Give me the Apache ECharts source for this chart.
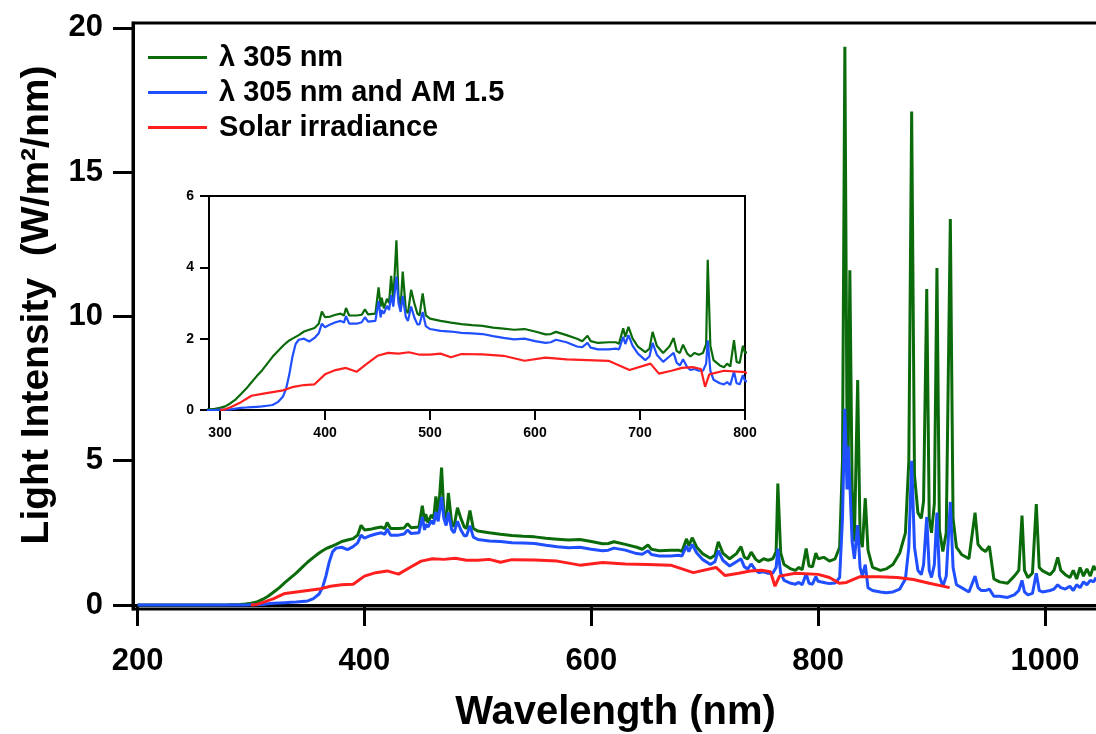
<!DOCTYPE html>
<html>
<head>
<meta charset="utf-8">
<script src="https://cdn.jsdelivr.net/npm/echarts@6/dist/echarts.min.js"></script>
<style>html,body{margin:0;padding:0;background:#fff;}#c{width:1096px;height:734px;}</style>
</head>
<body>
<div id="c"></div>
<script>
// Wavelengths (nm) shared by the two lamp spectra
const wavelengths = [200,250,280,290,295,300,305,310,315,320,325,330,335,340,345,350,355,360,363,366,369,372,375,380,385,390,394,397,400,405,410,415,418,420,423,430,435,438,441,448,451,453,454,456,459,461,463,465,468,470,472,474,477,479,482,485,488,490,493,496,500,510,520,530,540,550,560,570,580,590,600,610,615,620,630,640,645,650,653,660,670,677,680,684,686,689,693,698,705,709,712,716,722,728,732,735,738,741,745,748,752,756,760,763,764.5,767,770,776,780,783,786,789.5,792,795,798,800,805,810,815,819,821.5,823.6,825.5,826.5,828,830,832,834.9,837,839,841.6,844,848,855,860,866,872,877,880,882.5,885,888,891,893,895.8,898,900,902.5,904.8,907,910,913,916.6,919,922,926.5,933,938.4,941,944,947.6,951,955,960,967,973,977,979.8,982,985,989,992.4,995,998,1004.5,1008,1011.3,1014,1018,1022,1025,1028,1031,1034,1037,1040,1043,1045];
// λ 305 nm
const lamp305 = [0,0,0.01,0.02,0.03,0.06,0.1,0.19,0.3,0.45,0.6,0.78,0.95,1.11,1.3,1.49,1.65,1.8,1.88,1.95,2.0,2.05,2.1,2.2,2.25,2.3,2.42,2.76,2.6,2.62,2.67,2.7,2.65,2.86,2.65,2.65,2.67,2.82,2.68,2.7,3.44,2.9,3.15,2.85,3.12,3.0,3.76,3.05,4.76,3.2,2.9,3.88,2.8,2.72,3.37,3.0,2.7,2.65,3.27,2.65,2.56,2.5,2.45,2.41,2.38,2.36,2.31,2.28,2.25,2.27,2.2,2.12,2.13,2.19,2.1,2.0,1.93,2.08,1.93,1.88,1.9,1.9,1.86,2.29,2.05,2.33,2.0,1.78,1.62,1.72,2.19,1.8,1.6,1.78,2.02,1.65,1.6,1.83,1.58,1.5,1.6,1.55,1.6,1.85,4.21,1.8,1.4,1.25,1.2,1.3,1.22,1.96,1.35,1.32,1.8,1.6,1.65,1.52,1.6,2.0,5.0,19.35,6.0,5.0,11.6,4.0,2.2,7.8,2.4,2.0,3.7,1.9,1.3,1.2,1.25,1.4,1.8,2.5,5.0,17.1,4.5,3.2,3.0,3.6,10.95,3.0,2.5,3.5,11.68,2.6,1.85,2.5,13.38,3.0,2.0,1.75,1.6,3.2,2.1,1.95,1.85,2.04,0.9,0.8,0.75,1.0,1.2,3.1,1.2,0.95,1.1,3.5,1.3,1.18,1.05,1.2,1.65,1.2,1.05,0.95,1.2,0.9,1.3,1.0,1.25,1.0,1.35,1.2];
// λ 305 nm and AM 1.5
const lampAM15 = [0,0,0,0,0,0.01,0.01,0.02,0.04,0.06,0.07,0.08,0.09,0.1,0.12,0.14,0.22,0.38,0.6,1.0,1.5,1.85,1.97,2.0,1.92,2.02,2.15,2.42,2.32,2.4,2.46,2.5,2.45,2.63,2.42,2.42,2.46,2.6,2.48,2.5,3.05,2.6,2.8,2.7,2.92,2.8,3.22,2.9,3.74,3.0,2.75,3.2,2.6,2.5,2.9,2.6,2.4,2.4,2.75,2.35,2.27,2.22,2.2,2.16,2.15,2.13,2.07,2.02,1.98,2.0,1.93,1.88,1.9,1.97,1.9,1.78,1.76,1.88,1.75,1.7,1.7,1.72,1.7,2.05,1.85,2.1,1.8,1.58,1.4,1.5,1.88,1.55,1.35,1.5,1.6,1.32,1.25,1.42,1.2,1.12,1.15,1.1,1.1,1.3,1.95,1.1,0.85,0.75,0.72,0.78,0.7,1.08,0.75,0.72,0.98,0.82,0.78,0.74,0.76,0.95,3.0,6.8,4.0,5.5,4.2,2.2,1.6,2.77,1.3,1.0,1.4,0.6,0.5,0.45,0.42,0.45,0.55,0.9,2.0,5.0,2.0,1.2,1.05,1.4,3.05,1.2,0.95,1.4,3.2,1.0,0.65,1.0,3.57,1.3,0.7,0.6,0.45,1.0,0.6,0.5,0.5,0.55,0.3,0.3,0.26,0.35,0.5,0.85,0.45,0.35,0.4,1.1,0.5,0.45,0.5,0.55,0.7,0.6,0.55,0.65,0.5,0.7,0.6,0.8,0.7,0.85,0.8,0.95];
// Solar irradiance
const solarWl = [300,305,310,320,326,330,340,350,360,370,380,390,400,410,420,430,440,450,460,470,480,490,500,510,520,530,550,570,590,610,630,650,670,690,710,718,730,740,750,758,762,766,780,800,810,819,825,837,854,870,884,898,916];
const solar = [0,0.02,0.08,0.22,0.33,0.4,0.45,0.5,0.55,0.65,0.7,0.72,1.0,1.12,1.18,1.07,1.3,1.52,1.6,1.58,1.62,1.55,1.55,1.58,1.48,1.57,1.56,1.52,1.38,1.47,1.42,1.4,1.38,1.12,1.3,1.02,1.1,1.18,1.2,1.15,0.65,1.0,1.1,1.06,0.95,0.75,0.78,0.98,0.98,0.95,0.88,0.75,0.6];

const seriesNames = ['λ 305 nm', 'λ 305 nm and AM 1.5', 'Solar irradiance'];
const seriesColors = ['#0b6b0b', '#1f4fff', '#ff1f1f'];
const mainXTicks = [200, 400, 600, 800, 1000];
const mainYTicks = [0, 5, 10, 15, 20];
const insetXTicks = [300, 400, 500, 600, 700, 800];

const pairs = (xs, ys) => xs.map((x, i) => [x, ys[i]]);
const dataSets = [pairs(wavelengths, lamp305), pairs(wavelengths, lampAM15), pairs(solarWl, solar)];

const FONT = "'Liberation Sans', Arial, Helvetica, sans-serif";
const plain = v => String(v);

const series = [];
dataSets.forEach((d, i) => {
  series.push({
    name: seriesNames[i], type: 'line', data: d, xAxisIndex: 0, yAxisIndex: 0,
    showSymbol: false, symbol: 'none', lineStyle: { width: 3, color: seriesColors[i] },
    itemStyle: { color: seriesColors[i] }, z: 2 + i
  });
});
dataSets.forEach((d, i) => {
  series.push({
    name: seriesNames[i], type: 'line', data: d, xAxisIndex: 1, yAxisIndex: 1,
    showSymbol: false, symbol: 'none', lineStyle: { width: 2.2, color: seriesColors[i] },
    itemStyle: { color: seriesColors[i] }, z: 10 + i
  });
});

const chart = echarts.init(document.getElementById('c'), null, { renderer: 'canvas' });
chart.setOption({
  animation: false,
  backgroundColor: '#fff',
  textStyle: { fontFamily: FONT },
  legend: {
    data: seriesNames, orient: 'vertical', left: 148, top: 43, padding: 0,
    icon: 'rect', itemWidth: 59, itemHeight: 3, itemGap: 6,
    textStyle: { fontSize: 29, fontWeight: 'bold', color: '#000', fontFamily: FONT, padding: [0, 0, 0, 7] }
  },
  grid: [
    { left: 133, right: -8, top: 23, bottom: 125, show: true, borderColor: '#000', borderWidth: 3, backgroundColor: 'transparent', containLabel: false, outerBoundsMode: 'none' },
    { left: 209, right: 351, top: 196, bottom: 324, show: true, borderColor: '#000', borderWidth: 2, backgroundColor: '#fff', z: 5, containLabel: false, outerBoundsMode: 'none' }
  ],
  xAxis: [
    {
      type: 'value', gridIndex: 0, min: 195.9, max: 1052.1,
      name: 'Wavelength (nm)', nameLocation: 'middle', nameGap: 84,
      nameTextStyle: { fontSize: 40, fontWeight: 'bold', color: '#000', fontFamily: FONT, padding: [0, 6, 0, 0] },
      axisLine: { show: true, lineStyle: { color: '#000', width: 3 } },
      axisTick: { show: true, inside: false, length: 21, lineStyle: { color: '#000', width: 3 }, customValues: mainXTicks },
      axisLabel: { fontSize: 31, fontWeight: 'bold', color: '#000', margin: 37, customValues: mainXTicks, fontFamily: FONT, formatter: plain },
      splitLine: { show: false }
    },
    {
      type: 'value', gridIndex: 1, min: 289.5, max: 800,
      axisLine: { show: true, lineStyle: { color: '#000', width: 2 } },
      axisTick: { show: true, length: 10, lineStyle: { color: '#000', width: 2 }, customValues: insetXTicks },
      axisLabel: { fontSize: 14, fontWeight: 'bold', color: '#000', margin: 16, customValues: insetXTicks, fontFamily: FONT, formatter: plain },
      splitLine: { show: false }
    }
  ],
  yAxis: [
    {
      type: 'value', gridIndex: 0, min: -0.14, max: 20.17,
      name: 'Light Intensity  (W/m²/nm)', nameLocation: 'middle', nameGap: 76, nameRotate: 90,
      nameTextStyle: { fontSize: 39, fontWeight: 'bold', color: '#000', fontFamily: FONT, padding: [0, 0, 0, 22] },
      axisLine: { show: true, lineStyle: { color: '#000', width: 3 } },
      axisTick: { show: true, length: 20, lineStyle: { color: '#000', width: 3 }, customValues: mainYTicks },
      axisLabel: { fontSize: 31, fontWeight: 'bold', color: '#000', margin: 30, customValues: mainYTicks, fontFamily: FONT },
      splitLine: { show: false }
    },
    {
      type: 'value', gridIndex: 1, min: 0, max: 6, interval: 2,
      axisLine: { show: true, lineStyle: { color: '#000', width: 2 } },
      axisTick: { show: true, length: 9, lineStyle: { color: '#000', width: 2 } },
      axisLabel: { fontSize: 14, fontWeight: 'bold', color: '#000', margin: 15, fontFamily: FONT },
      splitLine: { show: false }
    }
  ],
  series: series
});
</script>
</body>
</html>
